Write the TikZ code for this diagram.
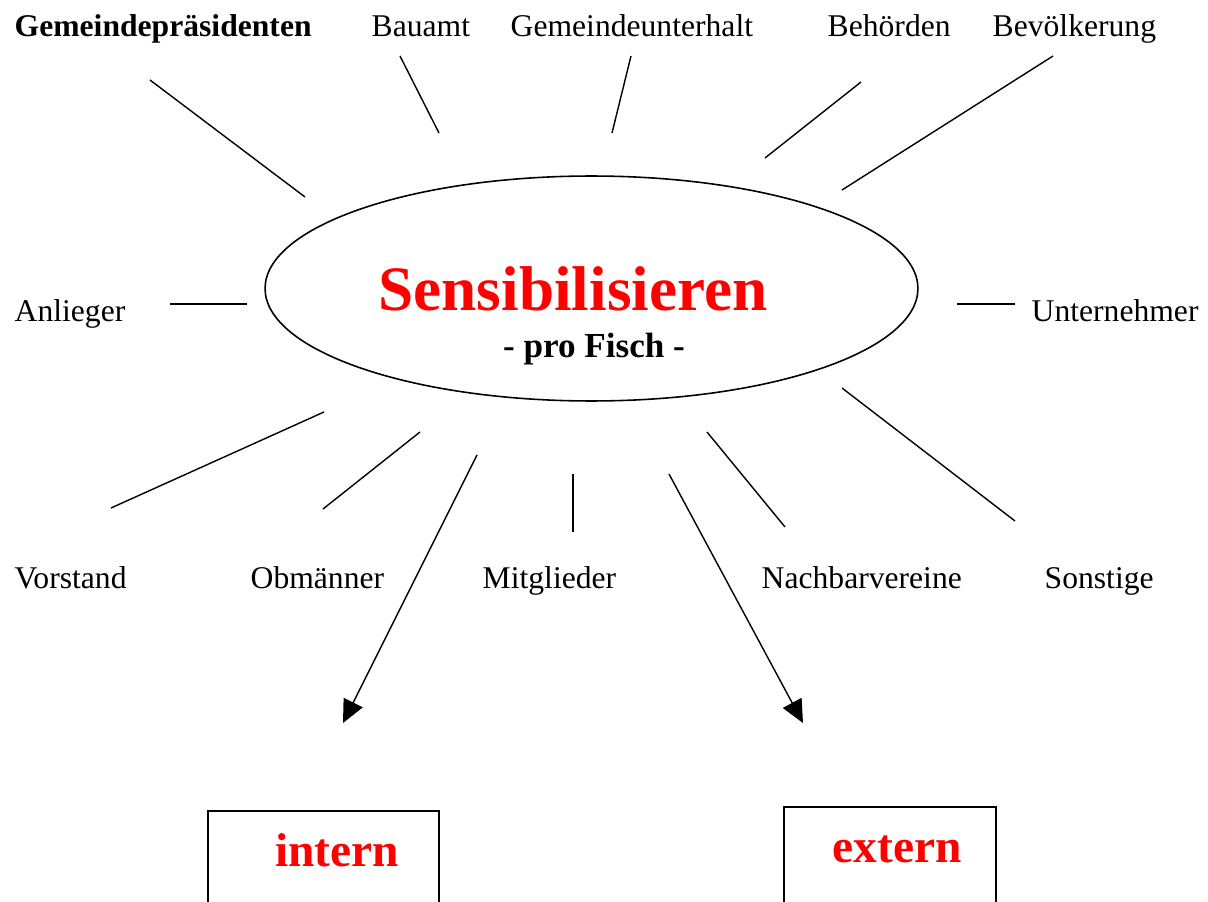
\documentclass[tikz,border=0pt]{standalone}
\usepackage{fontspec}
\setmainfont{Liberation Serif}
\usetikzlibrary{arrows.meta,shapes.geometric}

\tikzset{
	lbl/.style={anchor=base west, inner sep=0pt, font=\fontsize{18}{20}\selectfont},
	titel/.style={inner sep=0pt, text=red, font=\fontsize{36}{40}\selectfont\bfseries},
	kasten/.style={draw, line width=1.1pt, anchor=north west, inner sep=0pt},
	kastentext/.style={anchor=base, inner sep=0pt, text=red, font=\fontsize{27}{30}\selectfont\bfseries},
	pfeil/.style={-{Triangle[length=13pt,width=12pt]}}
}

\begin{document}
\begin{tikzpicture}[x=0.02cm, y=-0.02cm, line width=0.8pt]

\useasboundingbox (0,0) rectangle (1208,902);

% Sensibilisieren in der Mitte
\node[draw, line width=0.9pt, ellipse, minimum width=13.06cm, minimum height=4.5cm] (sens) at (591.5,288.5) {};
\node[titel, anchor=base] (titel) at (573,311) {Sensibilisieren};
\node[anchor=base, inner sep=0pt, font=\fontsize{20}{22}\selectfont\bfseries] (fisch) at (594,358) {- pro Fisch -};

% Zielgruppen
\node[lbl, font=\fontsize{18}{20}\selectfont\bfseries] (praes) at (14,37) {Gemeindepräsidenten};
\node[lbl] (bauamt) at (371,37) {Bauamt};
\node[lbl] (unterhalt) at (510,37) {Gemeindeunterhalt};
\node[lbl] (behoerden) at (827,37) {Behörden};
\node[lbl] (bevoelk) at (992,37) {Bevölkerung};
\node[lbl] (anlieger) at (14,322) {Anlieger};
\node[lbl] (unternehmer) at (1031,322) {Unternehmer};
\node[lbl] (vorstand) at (14,588) {Vorstand};
\node[lbl] (obmaenner) at (250,588) {Obmänner};
\node[lbl] (mitglieder) at (482,588) {Mitglieder};
\node[lbl] (nachbar) at (761,588) {Nachbarvereine};
\node[lbl] (sonstige) at (1044,588) {Sonstige};

% Strahlen
\foreach \name/\ax/\ay/\bx/\by in {praes/150/80/305/197, bauamt/400/56/439/133,
	unterhalt/631/56/612/133, behoerden/861/82/765/158, bevoelk/1053/56/842/190,
	anlieger/170/304/247/304, unternehmer/1015/304/957/304, vorstand/111/508/324/412,
	obmaenner/323/509/420/432, mitglieder/573/532/573/474, nachbar/785/527/707/432,
	sonstige/1015/521/842/388} {
	\coordinate (\name-aussen) at (\ax,\ay);
	\coordinate (\name-innen) at (\bx,\by);
	\draw (\name-aussen) -- (\name-innen);
}

% intern / extern
\node[kasten, minimum width=4.62cm, minimum height=2.4cm] (intern) at (207,810) {};
\node[kastentext] at (337,866) {intern};
\node[kasten, minimum width=4.24cm, minimum height=2.4cm] (extern) at (783,806) {};
\node[kastentext] at (897,862) {extern};

\coordinate (intern-start) at (477,455);
\coordinate (intern-ende) at (343,723);
\coordinate (extern-start) at (669,474);
\coordinate (extern-ende) at (803,723);
\draw[pfeil] (intern-start) -- (intern-ende);
\draw[pfeil] (extern-start) -- (extern-ende);

\end{tikzpicture}
\end{document}
